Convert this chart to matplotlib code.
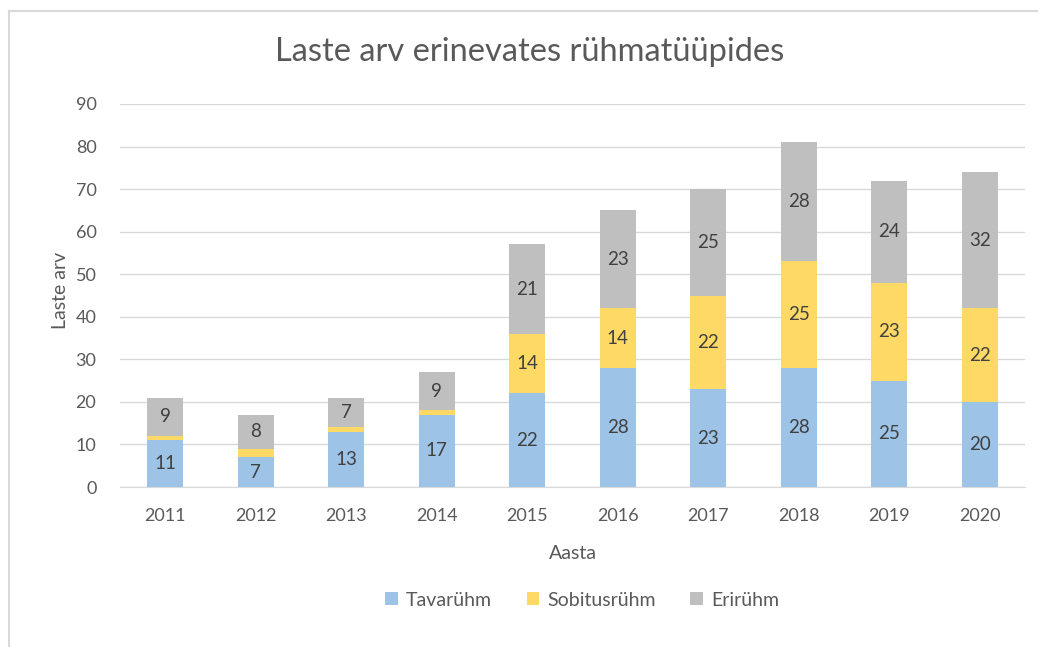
import matplotlib
matplotlib.use("Agg")
import matplotlib.pyplot as plt
from matplotlib.lines import Line2D
import numpy as np

years = ["2011", "2012", "2013", "2014", "2015", "2016", "2017", "2018", "2019", "2020"]
tavaruhm = [11, 7, 13, 17, 22, 28, 23, 28, 25, 20]
sobitusruhm = [1, 2, 1, 1, 14, 14, 22, 25, 23, 22]
eriruhm = [9, 8, 7, 9, 21, 23, 25, 28, 24, 32]
series_names = ["Tavarühm", "Sobitusrühm", "Erirühm"]
colors = ["#9DC3E6", "#FFD966", "#BFBFBF"]

plt.rcParams['font.family'] = ['Lato', 'DejaVu Sans']

W, H = 1038, 647
fig = plt.figure(figsize=(W / 100, H / 100), dpi=100)
ax = fig.add_axes([120 / W, 1 - 487 / H, (1025 - 120) / W, (487 - 104) / H])

x = np.arange(len(years))
bottom = np.zeros(len(years))
bars = []
for vals, name, c in zip([tavaruhm, sobitusruhm, eriruhm], series_names, colors):
    b = ax.bar(x, vals, width=0.4, bottom=bottom, color=c, label=name, zorder=3)
    bars.append(b)
    for xi, v, bt in zip(x, vals, bottom):
        if v >= 3:
            ax.text(xi, bt + v / 2, str(v), ha='center', va='center',
                    fontsize=13.5, color='#404040', zorder=4)
    bottom = bottom + np.array(vals)

ax.set_xlim(-0.5, len(years) - 0.5)
ax.set_ylim(0, 90)
ax.set_yticks(np.arange(0, 91, 10))
ax.set_xticks(x)
ax.set_xticklabels(years)
ax.yaxis.grid(True, color='#D9D9D9', linewidth=1, zorder=0)
ax.set_axisbelow(True)
for s in ['top', 'right', 'left']:
    ax.spines[s].set_visible(False)
ax.spines['bottom'].set_color('#D9D9D9')
ax.tick_params(axis='both', length=0, labelsize=13, colors='#595959')
ax.tick_params(axis='x', pad=15)
ax.tick_params(axis='y', pad=17)

ax.set_xlabel("Aasta", fontsize=14, color='#595959', labelpad=15)
ax.set_ylabel("Laste arv", fontsize=14, color='#595959')
ax.yaxis.set_label_coords((69 - 120) / 905, (487 - 290) / 383)

fig.text(530 / W, 1 - 52 / H, "Laste arv erinevates rühmatüüpides",
         ha='center', va='center', fontsize=23.5, color='#595959')

leg = fig.legend(handles=bars, labels=series_names, loc='center',
                 bbox_to_anchor=(582 / W, 1 - 600 / H), ncol=3, frameon=False,
                 fontsize=14, handlelength=0.65, handleheight=0.65,
                 handletextpad=0.4, columnspacing=1.8)
for t in leg.get_texts():
    t.set_color('#595959')

fig.lines.append(Line2D([9 / W, 9 / W], [0, 1 - 11 / H], transform=fig.transFigure,
                        color='#D9D9D9', linewidth=1.5))
fig.lines.append(Line2D([9 / W, 1], [1 - 11 / H, 1 - 11 / H], transform=fig.transFigure,
                        color='#D9D9D9', linewidth=1.5))

fig.savefig("out.png", dpi=100)
